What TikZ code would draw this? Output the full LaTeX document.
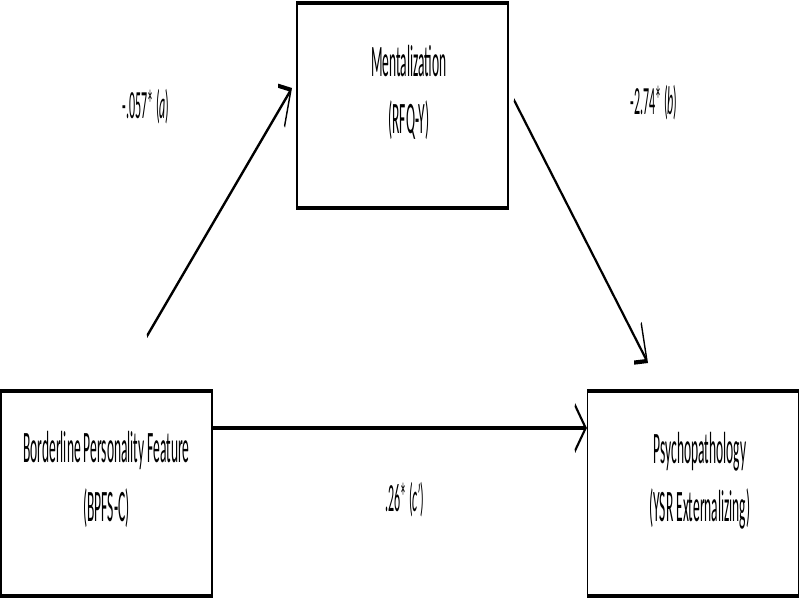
\documentclass[tikz,border=0pt]{standalone}
\usepackage{fontspec}
\setmainfont{Carlito}
\usetikzlibrary{arrows.meta}
\begin{document}
\begin{tikzpicture}[x=1pt,y=-1pt]
\useasboundingbox (0,0) rectangle (800,600);
\begin{scope}[transform canvas={xscale=0.3},
  box/.style={draw, line width=4.5pt, minimum width=703pt, minimum height=205pt, inner sep=0pt},
  txt/.style={font=\fontsize{45}{58}\selectfont, anchor=base, inner sep=0pt},
  lbl/.style={font=\fontsize{40}{46}\selectfont, anchor=base, inner sep=0pt},
  link/.style={line width=4.2pt, -{Straight Barb[length=36pt,width=46pt]}}]
  % boxes
  \node[box] (men) at (1341.7,105.5) {};
  \node[box] (bpf) at (355,493.5) {};
  \node[box] (psy) at (2310,493.5) {};
  % box texts
  \node[txt] (men1) at (1363,76) {Mentalization};
  \node[txt] (men2) at (1363,133) {(RFQ-Y)};
  \node[txt] (bpf1) at (355,462) {Borderline Personality Feature};
  \node[txt] (bpf2) at (355,521) {(BPFS-C)};
  \node[txt] (psy1) at (2333,463) {Psychopathology};
  \node[txt] (psy2) at (2333,521) {(YSR Externalizing)};
  % free ends of the connectors
  \coordinate (a0) at (490,336);
  \coordinate (a1) at (973.3,88);
  \coordinate (b0) at (1713.3,100);
  \coordinate (b1) at (2160,363);
  \coordinate (cy) at (0,428);
  % connectors
  \draw[link] (a0) -- (a1);
  \draw[link] (b0) -- (b1);
  \draw[link] (bpf.east |- cy) -- (psy.west |- cy);
  % labels
  \node[lbl] (la) at (486.7,118) {-.057* (\textit{a})};
  \node[lbl] (lb) at (2180,114) {-2.74* (\textit{b})};
  \node[lbl] (lc) at (1350,511) {.26* (\textit{c'})};
\end{scope}
\end{tikzpicture}
\end{document}
